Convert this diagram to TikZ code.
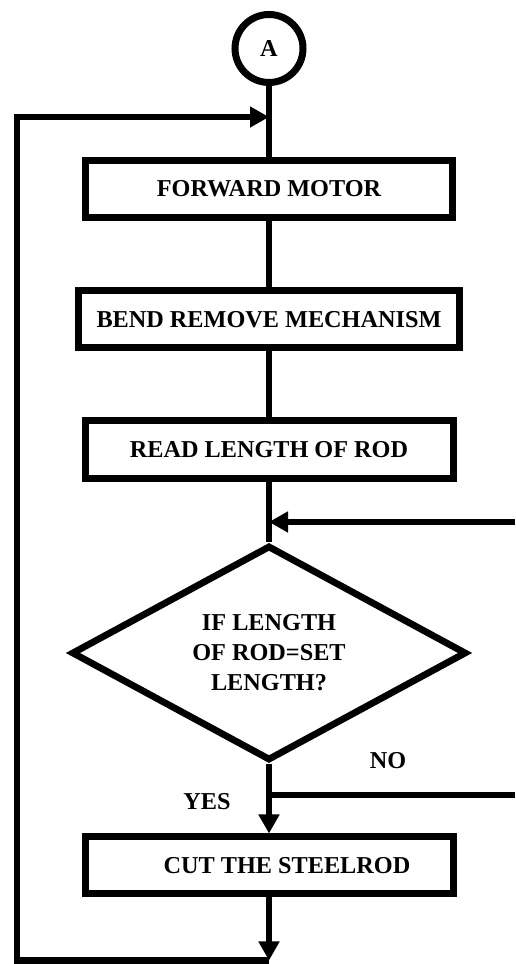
\documentclass[tikz,border=0pt]{standalone}
\usepackage{fontspec}
\setmainfont{Liberation Serif}
\usetikzlibrary{arrows.meta,shapes.geometric}
\tikzset{>={Triangle[length=3.8mm,width=4mm]}}

\begin{document}
\begin{tikzpicture}[line width=1.25mm, font=\fontsize{13.8}{17}\selectfont\bfseries,
    procbox/.style={draw, rectangle, line width=1.4mm, minimum height=1.14cm, inner sep=0pt},
    decide/.style={draw, diamond, aspect=2, line width=1.35mm, minimum width=7.9cm, minimum height=4.3cm, inner sep=0pt, align=center}]
    \useasboundingbox (0,0) rectangle (10.3,19.28);
    % blocks
    \node[draw, circle, line width=1.4mm, minimum size=1.36cm, inner sep=0pt] (A) at (5.38,18.31) {A};
    \node[procbox, minimum width=7.34cm] (fwd) at (5.38,15.5) {FORWARD MOTOR};
    \node[procbox, minimum width=7.62cm] (bend) at (5.38,12.89) {BEND REMOVE MECHANISM};
    \node[procbox, minimum width=7.36cm, minimum height=1.16cm] (read) at (5.38,10.28) {READ LENGTH OF ROD};
    \node[decide] (check) at (5.38,6.22) {IF LENGTH\\OF ROD=SET\\LENGTH?};
    \node[procbox, minimum width=7.36cm] (cut) at (5.38,1.97) {\hspace*{0.72cm}CUT THE STEELROD};
    \node (no) at (7.76,4.06) {NO};
    \node (yes) at (4.14,3.24) {YES};
    % junctions
    \coordinate (loop) at (5.38,16.94);
    \coordinate (merge) at (5.38,8.84);
    \coordinate (split) at (5.38,3.38);
    \coordinate (bottom) at (5.38,0.07);
    \coordinate (noin) at (10.3,8.84);
    \coordinate (noout) at (10.3,3.38);
    \coordinate (bl) at (0.34,0.07);
    \coordinate (tl) at (0.34,16.94);
    % flow
    \draw (A) -- (fwd);
    \draw (fwd) -- (bend);
    \draw (bend) -- (read);
    \draw (read) -- (check);
    \draw[->] (noin) -- (merge);
    \draw[->] (check) -- (cut);
    \draw (split) -- (noout);
    \draw[->] (cut) -- (bottom);
    \draw[->] (bottom) -- (bl) -- (tl) -- (loop);
\end{tikzpicture}
\end{document}
